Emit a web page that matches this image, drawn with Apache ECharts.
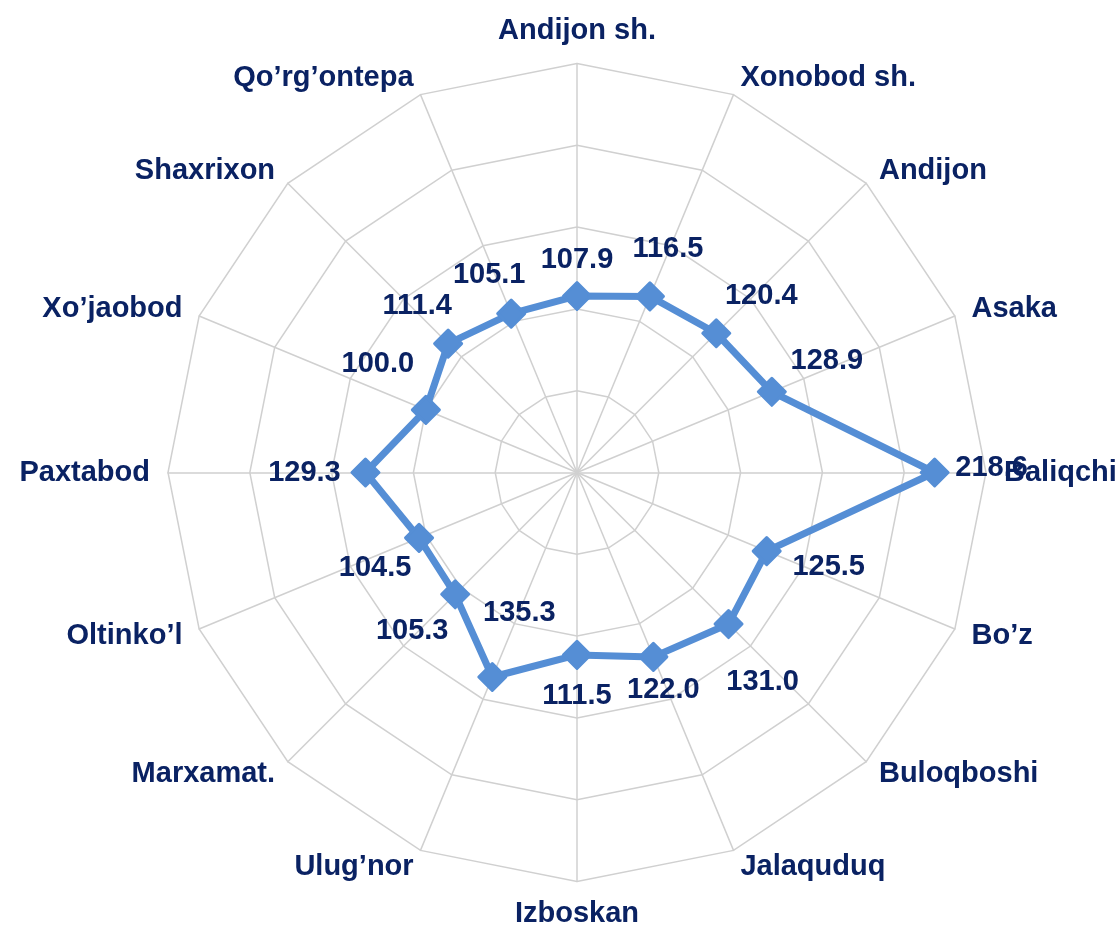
<!DOCTYPE html>
<html>
<head>
<meta charset="utf-8">
<script src="https://cdn.jsdelivr.net/npm/echarts@6/dist/echarts.min.js"></script>
<style>
html,body{margin:0;padding:0;background:#fff;}
#chart{width:1120px;height:927px;}
</style>
</head>
<body>
<div id="chart"></div>
<script>
// Data (clockwise from top)
const districts = ["Andijon sh.","Xonobod sh.","Andijon","Asaka","Baliqchi","Bo’z","Buloqboshi","Jalaquduq","Izboskan","Ulug’nor","Marxamat.","Oltinko’l","Paxtabod","Xo’jaobod","Shaxrixon","Qo’rg’ontepa"];
const values = [107.9,116.5,120.4,128.9,218.6,125.5,131.0,122.0,111.5,135.3,105.3,104.5,129.3,100.0,111.4,105.1];
const axisMin = 0;
const axisMax = 250;
const rings = 5;

// label placement (style only): pixel offsets from each point
const labelOffsets = [[0,-36],[18,-47],[45,-37],[55,-31],[57,-5],[62,16],[34,58],[10,33],[0,41],[27,-64],[-43,37],[-44,30],[-61,0],[-48,-46],[-31,-38],[-22,-39]];

const textColor = '#0A2263';
const lineColor = '#558ED5';
const gridColor = '#D0D0D0';
const fontFamily = '"Liberation Sans", Arial, sans-serif';
const center = [577, 472.5];
const radius = 409;

// ECharts radar runs counter-clockwise; reorder to get clockwise layout
const order = [0].concat(districts.map((d,i)=>i).slice(1).reverse());
const indicators = order.map(i => ({ name: districts[i], min: axisMin, max: axisMax }));
const radarValues = order.map(i => values[i]);

const chart = echarts.init(document.getElementById('chart'), null, {renderer:'canvas'});
chart.setOption({
  animation: false,
  backgroundColor: '#fff',
  radar: {
    center: center,
    radius: radius,
    startAngle: 90,
    splitNumber: rings,
    shape: 'polygon',
    indicator: indicators,
    axisName: { color: textColor, fontSize: 29, fontWeight: 'bold', fontFamily: fontFamily },
    nameGap: 18,
    axisLine: { lineStyle: { color: gridColor, width: 1.5 } },
    splitLine: { lineStyle: { color: gridColor, width: 1.5 } },
    splitArea: { show: false },
    axisTick: { show: false },
    axisLabel: { show: false }
  },
  polar: { center: center, radius: radius },
  angleAxis: { type: 'value', min: 0, max: districts.length, startAngle: 90, clockwise: true, show: false, splitLine:{show:false}, axisLine:{show:false}, axisTick:{show:false}, axisLabel:{show:false} },
  radiusAxis: { type: 'value', min: axisMin, max: axisMax, show: false, splitLine:{show:false}, axisLine:{show:false}, axisTick:{show:false}, axisLabel:{show:false} },
  series: [
    {
      type: 'radar',
      z: 2,
      silent: true,
      symbol: 'diamond',
      symbolSize: 27,
      lineStyle: { color: lineColor, width: 7, join: 'round' },
      itemStyle: { color: lineColor, borderColor: lineColor, borderWidth: 3, borderJoin: 'round' },
      data: [{ value: radarValues }]
    },
    {
      type: 'scatter',
      coordinateSystem: 'polar',
      z: 3,
      silent: true,
      symbolSize: 1,
      itemStyle: { color: 'rgba(0,0,0,0)', opacity: 1 },
      data: values.map((v, i) => ({
        value: [v, i],
        label: {
          show: true,
          position: 'inside',
          offset: labelOffsets[i],
          formatter: v.toFixed(1),
          color: textColor,
          opacity: 1,
          fontSize: 29,
          fontWeight: 'bold',
          fontFamily: fontFamily
        }
      }))
    }
  ]
});
</script>
</body>
</html>
